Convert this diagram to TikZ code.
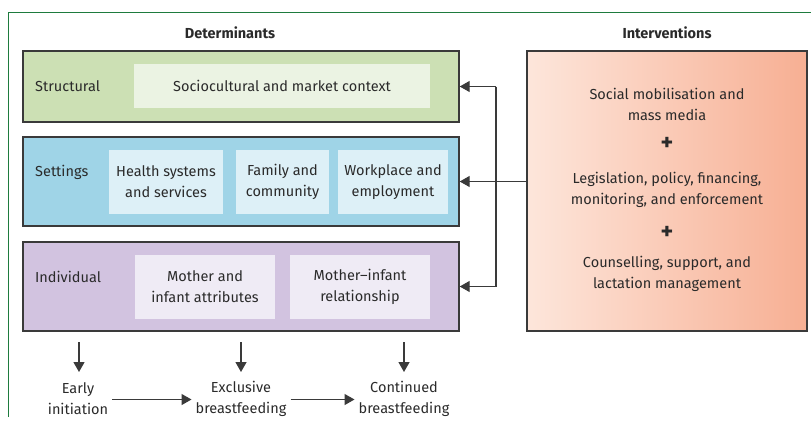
\documentclass[tikz,border=0pt]{standalone}
\usepackage{fontspec}
\setmainfont{Fira Sans}
\usetikzlibrary{arrows.meta}
\definecolor{framegreen}{HTML}{1E7B3E}
\definecolor{edge}{HTML}{3A3A3A}
\definecolor{gfill}{HTML}{CCE0B4}
\definecolor{ginner}{HTML}{EBF3E3}
\definecolor{bfill}{HTML}{9FD4E7}
\definecolor{binner}{HTML}{DDF0F7}
\definecolor{pfill}{HTML}{D2C3E0}
\definecolor{pinner}{HTML}{EFEBF5}
\definecolor{gradl}{HTML}{FDE6DB}
\definecolor{gradr}{HTML}{F7AF93}
\definecolor{txt}{HTML}{2A2A2A}
\tikzset{
  band/.style={draw=edge, line width=1.4pt, minimum width=436pt, inner sep=0pt},
  inner/.style={draw=none, inner sep=0pt, align=center, text=txt, font=\fontsize{14.5}{21}\selectfont},
  lab/.style={anchor=west, text=txt, font=\fontsize{14.5}{21}\selectfont, inner sep=0pt},
  title/.style={font=\fontsize{14.5}{17}\selectfont\bfseries, text=txt},
  outcome/.style={align=center, text=txt, font=\fontsize{14.5}{21}\selectfont, inner sep=4pt},
  plus/.style={inner sep=0pt, text=txt, font=\fontsize{24}{24}\selectfont\bfseries},
  conn/.style={draw=edge, line width=1.3pt},
  arr/.style={conn, -{Triangle[length=10pt,width=11pt]}},
}
\begin{document}
\begin{tikzpicture}[x=1pt,y=-1pt]
\useasboundingbox (0,0) rectangle (811,426);
% frame
\draw[framegreen, line width=1pt] (8,417) -- (8,12) -- (811,12);
% titles
\node[title] (dettitle) at (230,33) {Determinants};
\node[title] (inttitle) at (667,33) {Interventions};
% bands
\node[band, fill=gfill, minimum height=71pt] (structural) at (241,86.5) {};
\node[band, fill=bfill, minimum height=89pt] (settings) at (241,181.5) {};
\node[band, fill=pfill, minimum height=89pt] (individual) at (241,286.5) {};
% labels
\node[lab] (lstruct) at (35,86.5) {Structural};
\node[lab] (lset) at (35,172) {Settings};
\node[lab] (lind) at (35,277) {Individual};
% inner boxes
\node[inner, fill=ginner, minimum width=296pt, minimum height=44pt] (socio) at (282,86) {Sociocultural and market context};
\node[inner, fill=binner, minimum width=114pt, minimum height=64pt] (health) at (166,182) {Health systems\\and services};
\node[inner, fill=binner, minimum width=93pt, minimum height=64pt] (family) at (282.5,182) {Family and\\community};
\node[inner, fill=binner, minimum width=110pt, minimum height=64pt] (work) at (393,182) {Workplace and\\employment};
\node[inner, fill=pinner, minimum width=140pt, minimum height=64pt] (mia) at (205,287) {Mother and\\infant attributes};
\node[inner, fill=pinner, minimum width=140pt, minimum height=64pt] (mir) at (360,287) {Mother–infant\\relationship};
% interventions
\node[draw=edge, line width=1.4pt, left color=gradl, right color=gradr, minimum width=280pt, minimum height=280pt, inner sep=0pt] (interv) at (667,191) {};
\node[inner] (i1) at (667,104) {Social mobilisation and\\mass media};
\node[plus] (p1) at (667,144) {+};
\node[inner] (i2) at (667,189.5) {Legislation, policy, financing,\\monitoring, and enforcement};
\node[plus] (p2) at (667,233) {+};
\node[inner] (i3) at (667,273.5) {Counselling, support, and\\lactation management};
% connectors to bands
\coordinate (jt) at (496,86.5);
\coordinate (jb) at (496,286.5);
\draw[conn] (jt) -- (jb);
\draw[arr] (jt) -- (structural.east);
\draw[arr] (jb) -- (individual.east);
\draw[arr] (interv.west |- settings.east) -- (settings.east);
% outcomes
\node[outcome] (early) at (78,399) {Early\\initiation};
\node[outcome] (excl) at (241,399) {Exclusive\\breastfeeding};
\node[outcome] (cont) at (404,399) {Continued\\breastfeeding};
\coordinate (d1) at (79,342);
\coordinate (d2) at (241,342);
\coordinate (d3) at (404,342);
\coordinate (e1) at (79,372);
\coordinate (e2) at (241,372);
\coordinate (e3) at (404,372);
\draw[arr] (d1) -- (e1);
\draw[arr] (d2) -- (e2);
\draw[arr] (d3) -- (e3);
\draw[arr] ([yshift=-0.5pt]early.east) -- ([yshift=-0.5pt]excl.west);
\draw[arr] ([yshift=-0.5pt]excl.east) -- ([yshift=-0.5pt]cont.west);
\end{tikzpicture}
\end{document}
